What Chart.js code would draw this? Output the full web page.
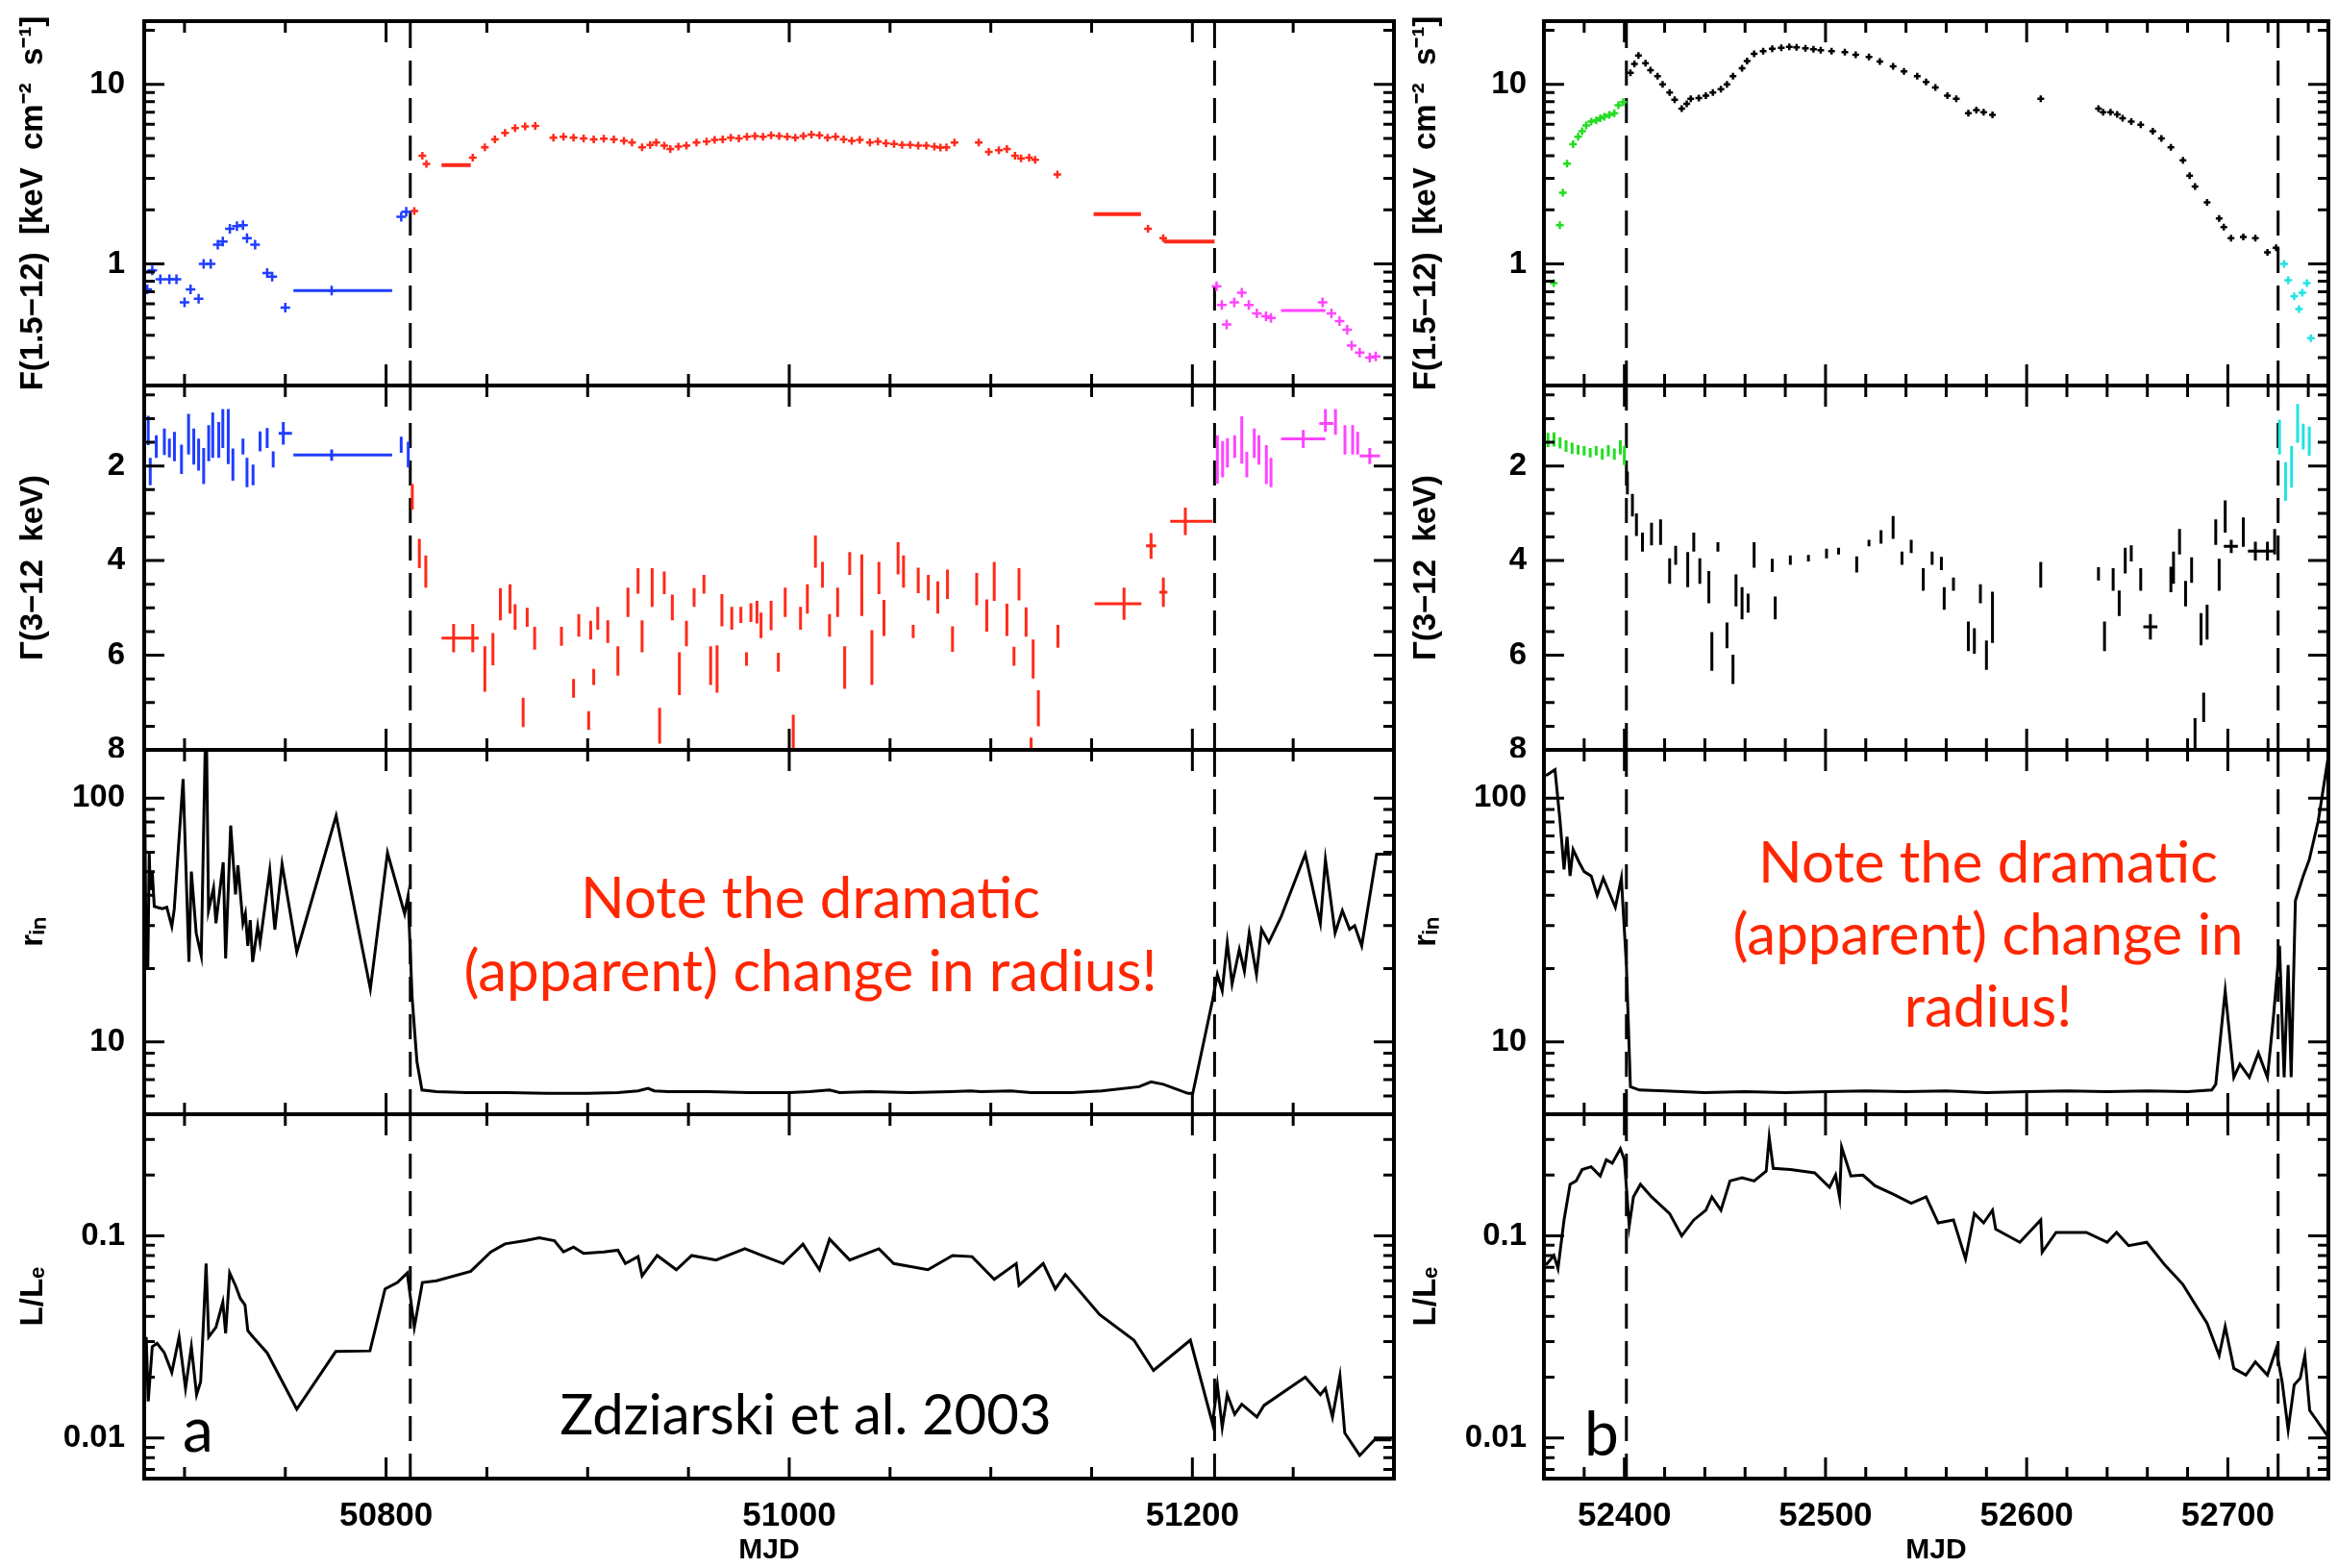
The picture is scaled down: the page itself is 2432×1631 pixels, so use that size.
<!DOCTYPE html>
<html>
<head>
<meta charset="utf-8">
<script src="https://cdn.jsdelivr.net/npm/chart.js@4.4.0/dist/chart.umd.min.js"></script>
<style>
  body { margin: 0; background: #fff; width: 2432px; height: 1631px; position: relative; overflow: hidden; }
  canvas { position: absolute; }
  .note { position: absolute; transform: translate(-50%, -50%); white-space: nowrap; text-align: center;
          font-family: Lato, "Open Sans", sans-serif; }
</style>
</head>
<body>
<script>
// AXIS RANGES AND TICK LABELS
const xLeftRange = [50680, 51300];
const xRightRange = [52360, 52750];
const xLeftTicks = [50800, 51000, 51200];
const xRightTicks = [52400, 52500, 52600, 52700];
const fluxRange = [0.21, 22.5];
const fluxTicks = [1, 10];
const gammaRange = [0.3, 8];
const gammaTicks = [2, 4, 6, 8];
const rinRange = [5.05, 158];
const rinTicks = [10, 100];
const lumRange = [0.0063, 0.4];
const lumTicks = [0.01, 0.1];
const dashLeft = [50812, 51211];
const dashRight = [52401, 52725];

// PANEL a : F(1.5-12)   [mjd, flux]
const fluxBlue = [[50681.5,0.72],[50684,0.92],[50688,0.82],[50692.5,0.82],[50696,0.82],[50700,0.61],[50703,0.72],
  [50707,0.64],[50709.5,1.0],[50713,1.0],[50716.5,1.28],[50719,1.33],[50722.5,1.57],[50726,1.62],[50729,1.64],
  [50731,1.39],[50735,1.28],[50741,0.89],[50743.5,0.85],[50750,0.57],[50773,0.71],[50807.5,1.83],[50810,1.95]];
const fluxBlueBins = [[50754,50803,0.71]];
const fluxRed = [[50814,1.97],[50818,4.0],[50820,3.6],[50843,3.9],[50849,4.46],[50854,4.94],[50859,5.37],[50864,5.7],
  [50869,5.83],[50874,5.87],[50883,5.05],[50888,5.1],[50893,5.05],[50898,5.0],[50903,4.94],[50908,4.98],[50913,4.94],
  [50918,4.85],[50922,4.74],[50927,4.46],[50931,4.6],[50934,4.74],[50938,4.55],[50941,4.37],[50945,4.5],[50949,4.55],
  [50954,4.74],[50959,4.8],[50963,4.9],[50967,4.94],[50971,5.05],[50975,5.0],[50979,5.1],[50983,5.15],[50987,5.1],
  [50991,5.2],[50995,5.15],[50999,5.1],[51003,5.05],[51007,5.15],[51011,5.25],[51015,5.2],[51019,5.05],[51023,5.1],
  [51027,4.94],[51031,4.85],[51035,4.9],[51040,4.74],[51044,4.8],[51048,4.7],[51052,4.65],[51056,4.6],[51060,4.6],
  [51064,4.55],[51068,4.55],[51072,4.5],[51075,4.45],[51078,4.46],[51082,4.74],[51094,4.74],[51099,4.2],[51104,4.3],
  [51108,4.37],[51112,4.0],[51115,3.87],[51119,3.9],[51122,3.8],[51133,3.15],[51178,1.57],[51185.5,1.39]];
const fluxRedBins = [[50827.5,50842,3.55],[51151,51174.5,1.89],[51186,51211,1.33]];
const fluxMag = [[51212,0.75],[51214.6,0.59],[51217,0.46],[51220.8,0.61],[51224.5,0.69],[51228,0.59],[51232,0.53],
  [51236.5,0.51],[51239,0.5],[51264.6,0.61],[51269,0.53],[51273,0.48],[51276.8,0.43],[51279,0.35],[51283,0.32],
  [51288,0.3],[51291,0.305]];
const fluxMagBins = [[51244,51266,0.55]];

// PANEL a : Gamma(3-12 keV)   [mjd, gamma, error]
const gamBlue = [[50682,1.25,0.31],[50683,2.12,0.29],[50686,1.59,0.24],[50690,1.49,0.28],[50692.5,1.62,0.2],
  [50695,1.59,0.31],[50698.5,1.86,0.31],[50702,1.33,0.43],[50704.6,1.59,0.38],[50707,1.76,0.34],[50709.5,2.0,0.38],
  [50712,1.52,0.38],[50714,1.35,0.48],[50717,1.45,0.38],[50719,1.21,0.41],[50721.7,1.38,0.58],[50724,1.97,0.34],
  [50729,1.59,0.17],[50731,2.14,0.31],[50734,2.19,0.22],[50737.5,1.48,0.21],[50741,1.41,0.21],[50744,1.86,0.17],
  [50749,1.31,0.24],[50773,1.77,0.12],[50807.5,1.55,0.17],[50811,1.76,0.27]];
const gamBlueBins = [[50754,50803,1.77],[50746.7,50753.3,1.31]];
const gamRed = [[50813,2.65,0.27],[50816.5,3.85,0.31],[50819.7,4.23,0.34],[50833.5,5.64,0.3],[50843,5.64,0.3],
  [50849,6.29,0.48],[50853,5.87,0.34],[50856.7,4.92,0.34],[50861.5,4.81,0.31],[50864,5.19,0.27],[50868,7.21,0.31],
  [50870,5.2,0.2],[50873.7,5.64,0.24],[50887,5.6,0.2],[50893,6.7,0.2],[50895.6,5.37,0.24],[50900.5,7.38,0.2],
  [50901.5,5.47,0.2],[50903,6.46,0.17],[50905,5.22,0.24],[50910,5.5,0.24],[50915,6.12,0.31],[50920,4.88,0.31],
  [50925,4.43,0.27],[50927,5.6,0.34],[50932,4.57,0.41],[50935.7,7.49,0.38],[50938,4.47,0.24],[50942,4.99,0.27],
  [50945.5,6.39,0.45],[50949,5.54,0.27],[50952.8,4.78,0.2],[50957.7,4.5,0.2],[50961,6.22,0.41],[50964.2,6.29,0.5],
  [50966.6,5.05,0.34],[50971.5,5.22,0.24],[50976,5.15,0.17],[50978.8,6.08,0.14],[50981,5.1,0.2],[50984,5.09,0.24],
  [50986,5.37,0.27],[50991,5.16,0.31],[50994.6,6.15,0.2],[50998,4.88,0.31],[51002,7.74,0.48],[51005.6,5.22,0.24],
  [51009,4.81,0.31],[51013,3.81,0.34],[51016.5,4.3,0.27],[51020,5.37,0.24],[51024,4.88,0.31],[51027.5,6.26,0.45],
  [51030,4.06,0.24],[51036,4.52,0.65],[51041,6.05,0.58],[51044.5,4.37,0.34],[51047,5.21,0.38],[51054,3.95,0.34],
  [51056.7,4.23,0.34],[51061.5,5.5,0.14],[51064,4.42,0.27],[51069,4.57,0.27],[51073.7,4.78,0.34],[51078.5,4.5,0.31],
  [51081,5.66,0.27],[51093,4.6,0.34],[51098,5.16,0.34],[51101.7,4.44,0.41],[51108,5.25,0.34],[51111.5,6.02,0.2],
  [51114,4.5,0.34],[51117.5,5.3,0.31],[51120,7.94,0.2],[51121,6.08,0.41],[51123.6,7.12,0.38],[51133.3,5.6,0.24],
  [51166.1,4.91,0.34],[51179.5,3.69,0.27],[51185.6,4.67,0.31],[51196.5,3.17,0.29]];
const gamRedBins = [[50827.5,50846,5.64],[51151.5,51174.7,4.91],[51177,51182,3.69],[51183.6,51187.6,4.67],[51189,51210,3.17]];
const gamMag = [[51212.4,1.86,0.51],[51215,1.86,0.38],[51217.4,1.72,0.31],[51221,1.59,0.24],[51224.5,1.45,0.5],
  [51227,1.97,0.27],[51230.7,1.52,0.31],[51233,1.66,0.31],[51236.7,1.97,0.41],[51239,2.14,0.31],[51255,1.43,0.19],
  [51266,1.04,0.24],[51271,1.07,0.27],[51275.7,1.45,0.31],[51279.5,1.45,0.31],[51282,1.52,0.24],[51288,1.79,0.17]];
const gamMagBins = [[51244,51266,1.43],[51263,51270,1.1],[51283,51293,1.79]];

// PANEL a : r_in and L/L_E   [mjd, value]
const rinLeft = [[50680.3,91],[50681,20],[50681.8,20],[50682.5,60],[50683,42],[50684,50],[50685,36],[50686.4,35.7],
  [50689,35.2],[50691.2,35.7],[50693.7,29.8],[50694.9,35],[50699.3,120],[50702.2,21.3],[50703.4,50],[50705.8,28],
  [50708.3,22.6],[50710.7,250],[50711.9,34.6],[50714.4,42.8],[50715.6,30.7],[50719.2,54.6],[50720.4,22],[50722.9,77.3],
  [50725.3,40.3],[50726.5,53],[50729,30.7],[50730.2,33.6],[50731.4,24.8],[50732.6,31.6],[50733.8,21.3],[50736.3,29.8],
  [50737.5,25.6],[50742.3,50.6],[50744.8,28.9],[50748.4,53.7],[50755.7,23.4],[50775.2,84.7],[50792.2,16.5],
  [50800.7,59.7],[50809.2,33.6],[50810.9,39.7],[50812.9,15.3],[50815.3,8.3],[50817.8,6.35],[50825,6.25],[50840,6.2],
  [50860,6.2],[50880,6.15],[50900,6.15],[50915,6.2],[50925,6.3],[50930,6.45],[50933,6.3],[50940,6.25],[50960,6.25],
  [50980,6.2],[51000,6.2],[51010,6.25],[51020,6.35],[51025,6.2],[51040,6.25],[51060,6.2],[51080,6.25],[51090,6.3],
  [51095,6.25],[51110,6.3],[51120,6.2],[51140,6.2],[51155,6.3],[51173.5,6.55],[51179.5,6.86],[51185.6,6.7],
  [51197.8,6.15],[51200.2,6.15],[51210,14.8],[51212.4,18.9],[51214.8,16.2],[51217.3,25.6],[51219.7,17.3],[51223.3,24],
  [51225.8,19.5],[51228.2,28],[51231.8,18.9],[51234.3,29],[51237.9,25.6],[51244,32.6],[51256,59],[51263.5,30.7],
  [51266,56],[51270.8,28],[51274.4,34.6],[51278,29],[51280.5,30],[51284,24.8],[51291.4,59],[51298.8,59]];
const lumLeft = [[50681,0.0316],[50682,0.0152],[50684,0.0283],[50686.4,0.0294],[50690,0.0264],[50693.7,0.0211],
  [50697.3,0.0316],[50700.5,0.0176],[50703.4,0.0283],[50706,0.0164],[50708,0.019],[50709.5,0.039],[50710.7,0.073],
  [50712,0.0316],[50715.6,0.0353],[50719,0.047],[50720.4,0.033],[50722.4,0.0656],[50725.3,0.0568],[50727.7,0.049],
  [50730,0.0456],[50731.4,0.034],[50734,0.0316],[50741,0.0264],[50755.7,0.0139],[50775,0.0268],[50792,0.027],
  [50799.5,0.0547],[50805.6,0.0588],[50810.5,0.0656],[50814,0.0353],[50818,0.0588],[50825,0.06],[50842,0.0668],
  [50852,0.0834],[50859,0.0913],[50869,0.0947],[50876,0.098],[50883.5,0.0947],[50888,0.0834],[50893,0.088],
  [50898,0.082],[50908,0.0834],[50915,0.085],[50918.7,0.073],[50925,0.079],[50927,0.0634],[50934.5,0.08],
  [50944,0.068],[50951.6,0.08],[50963.7,0.076],[50978,0.0864],[50988,0.079],[50997,0.073],[51006.8,0.091],
  [51015,0.068],[51020,0.0964],[51030,0.076],[51044.5,0.0864],[51051.8,0.073],[51068.8,0.068],[51081,0.08],
  [51090.7,0.079],[51101.7,0.061],[51112.6,0.073],[51114,0.057],[51126,0.073],[51132,0.0547],[51137,0.0645],
  [51154,0.0408],[51171,0.0305],[51180.7,0.0216],[51199,0.0305],[51210,0.0118],[51212.4,0.0183],[51214.8,0.0113],
  [51217.3,0.0164],[51221,0.0131],[51224.5,0.0147],[51232,0.0127],[51235.5,0.0145],[51256,0.02],[51263.5,0.0164],
  [51266,0.0176],[51269.5,0.0127],[51273.2,0.0203],[51275.6,0.0106],[51283,0.0082],[51290.3,0.0098],[51298.8,0.0098]];

// PANEL b : F(1.5-12)
const fluxGreen = [[52364.9,0.78],[52367.9,1.64],[52369.4,2.49],[52371.5,3.62],[52374.5,4.64],[52377,5.1],[52379,5.48],
  [52381,5.9],[52383.5,6.2],[52386,6.3],[52388,6.47],[52390,6.6],[52392.5,6.75],[52395,6.9],[52397,7.64],[52399.4,7.96]];
const fluxBlack = [[52403,11.6],[52405,13],[52407,14.5],[52410.5,13.1],[52413,12],[52416.5,11.1],[52419,10],
  [52422.5,9.0],[52425,8.2],[52428.5,7.33],[52431,7.8],[52433,8.3],[52437,8.4],[52440.5,8.65],[52444,9.0],[52448,9.4],
  [52451,10],[52454,11.1],[52458.5,12.3],[52461,13.5],[52464.5,14.8],[52469,15.3],[52473.5,15.8],[52478,16],
  [52482,16.2],[52485.6,16.1],[52490,15.9],[52494,15.7],[52497.6,15.5],[52503,15.3],[52509.6,15.1],[52515,14.6],
  [52521.6,14.2],[52527,13.4],[52533.6,12.6],[52539,11.8],[52545.6,11.1],[52550,10.3],[52554.6,9.6],[52560.6,8.65],
  [52565,8.3],[52571,6.9],[52575,7.2],[52578.6,7.0],[52583,6.75],[52607,8.3],[52635.7,7.33],[52638,7.0],[52641.7,7.0],
  [52645,6.8],[52647.7,6.47],[52652,6.2],[52656.7,5.95],[52662.7,5.48],[52667,5.0],[52671.7,4.46],[52677.7,3.78],
  [52681,3.1],[52683.7,2.7],[52689.7,2.2],[52695.7,1.79],[52698,1.6],[52701.6,1.39],[52707.7,1.41],[52713.7,1.39],
  [52719.7,1.16],[52724,1.23]];
const fluxCyan = [[52728,1.0],[52730,0.81],[52733,0.66],[52735.4,0.56],[52737,0.69],[52739.3,0.78],[52741.3,0.385]];

// PANEL b : Gamma(3-12 keV)
const gamGreen = [[52362,1.45,0.15],[52365,1.44,0.15],[52368,1.51,0.12],[52371,1.58,0.12],[52374,1.63,0.12],
  [52377,1.66,0.1],[52380,1.68,0.1],[52383,1.72,0.1],[52386,1.68,0.1],[52389,1.75,0.12],[52392,1.68,0.12],
  [52395,1.75,0.12],[52398,1.61,0.15],[52400,1.78,0.2]];
const gamBlack = [[52401.5,2.36,0.24],[52404,2.83,0.24],[52406,3.24,0.24],[52409,3.61,0.2],[52413.5,3.44,0.24],
  [52418,3.4,0.27],[52422.5,4.22,0.27],[52425.5,3.89,0.2],[52431.5,4.19,0.37],[52434.5,3.61,0.2],[52437.5,4.22,0.27],
  [52442,4.56,0.34],[52443.5,5.92,0.41],[52446.5,3.71,0.1],[52451,5.58,0.27],[52454,6.3,0.31],[52455.5,4.63,0.34],
  [52458.5,4.9,0.34],[52461.5,4.9,0.2],[52464.5,3.88,0.27],[52473.5,4.1,0.14],[52475,5.0,0.24],[52482.5,3.99,0.1],
  [52491.5,3.95,0.07],[52500.5,3.85,0.1],[52506.5,3.8,0.07],[52515.5,4.08,0.17],[52521.6,3.63,0.07],[52527.6,3.5,0.14],
  [52533.6,3.3,0.24],[52538,3.95,0.14],[52542.6,3.7,0.14],[52548.6,4.4,0.24],[52553,3.95,0.14],[52557.6,4.06,0.14],
  [52559,4.8,0.24],[52563.6,4.5,0.14],[52571,5.6,0.31],[52574,5.7,0.27],[52577,4.7,0.2],[52580,6.0,0.31],
  [52583,5.2,0.54],[52607,4.3,0.27],[52635.7,4.28,0.14],[52638.7,5.6,0.31],[52643,4.4,0.24],[52646,4.9,0.27],
  [52649,4.0,0.27],[52652,3.85,0.17],[52656.7,4.4,0.24],[52661.5,5.4,0.27],[52671.7,4.4,0.27],[52673,4.15,0.34],
  [52676,3.6,0.27],[52679,4.7,0.27],[52682,4.2,0.27],[52683.7,7.8,0.47],[52686.7,5.45,0.34],[52688,7.1,0.31],
  [52689.7,5.3,0.37],[52694,3.4,0.27],[52695.7,4.3,0.34],[52698.7,3.07,0.34],[52701.7,3.7,0.14],[52707.7,3.4,0.31],
  [52713.7,3.8,0.2],[52719.7,3.8,0.2],[52723.3,3.6,0.27]];
const gamBlackBins = [[52658,52665,5.4],[52698,52705,3.7],[52710,52717,3.8],[52716,52723,3.8]];
const gamCyan = [[52725.7,1.39,0.37],[52728.7,2.33,0.41],[52731.7,2.02,0.44],[52734.7,1.1,0.41],[52737.5,1.38,0.27],
  [52740.5,1.48,0.31]];

// PANEL b : r_in and L/L_E
const rinRight = [[52361,124],[52365.5,131],[52368,81],[52370,51],[52371.5,69.5],[52373,48],[52374.5,61.6],
  [52377.5,54.6],[52380,50],[52383.5,48],[52386.5,40],[52389.5,47],[52392.5,41],[52395.5,35.7],[52398.5,47],
  [52401,20.7],[52403,6.55],[52407.5,6.35],[52420,6.3],[52440,6.2],[52460,6.25],[52480,6.2],[52500,6.25],[52520,6.3],
  [52540,6.25],[52560,6.3],[52580,6.2],[52600,6.25],[52620,6.3],[52640,6.25],[52660,6.3],[52680,6.25],[52692,6.35],
  [52694,6.7],[52698.7,16.2],[52703,7.16],[52706,8.1],[52710.7,7.16],[52715.2,9.0],[52719.7,7.16],[52722.7,12.7],
  [52725.7,24.8],[52728,7.16],[52730,20.7],[52731.5,7.16],[52733.6,38],[52737.5,48],[52740.5,56],[52745,81],[52749.7,144]];
const lumRight = [[52361,0.0718],[52365,0.08],[52367,0.069],[52370,0.12],[52373,0.18],[52376,0.187],[52379,0.213],
  [52383.5,0.22],[52388,0.198],[52391,0.238],[52394,0.229],[52398,0.27],[52400,0.238],[52402.4,0.112],[52404.5,0.156],
  [52408,0.18],[52413.5,0.156],[52422.5,0.129],[52428.5,0.1],[52434.5,0.12],[52440.5,0.134],[52443.5,0.156],
  [52448,0.134],[52452.5,0.187],[52458.5,0.194],[52464.5,0.187],[52470.5,0.209],[52472,0.308],[52474,0.216],
  [52482.5,0.213],[52494.6,0.205],[52502,0.174],[52505,0.2],[52507,0.155],[52508,0.275],[52512.6,0.198],
  [52518.6,0.2],[52524.6,0.177],[52533.6,0.161],[52542.6,0.145],[52550,0.156],[52556,0.116],[52563.6,0.12],
  [52569.6,0.077],[52574,0.129],[52578.6,0.116],[52583,0.134],[52584.6,0.108],[52596.6,0.093],[52607,0.12],
  [52607.7,0.083],[52614.6,0.104],[52629.7,0.104],[52640,0.093],[52644.7,0.104],[52650.7,0.0895],[52659.7,0.093],
  [52668.7,0.0718],[52677.7,0.0575],[52683.7,0.046],[52689.7,0.037],[52695.7,0.0256],[52698.7,0.0356],[52703,0.0221],
  [52709,0.0205],[52713.7,0.0238],[52719.7,0.0205],[52724,0.0275],[52727,0.019],[52730,0.011],[52733,0.0183],
  [52736,0.0198],[52738.3,0.0256],[52740.7,0.0137],[52749.7,0.0102]];

// COLORES
const BLUE = '#1f3dff', RED = '#ff2a1a', MAG = '#ff44ff', GREEN = '#22dd22', CYAN = '#22e2e2', BLACK = '#000';

// HELPERS: build data for the library
function points(arr) { return arr.map(p => ({x: p[0], y: p[1]})); }
function errBars(arr) {
  const out = [];
  arr.forEach(p => out.push({x: p[0], y: p[1] - p[2]}, {x: p[0], y: p[1] + p[2]}, {x: p[0], y: null}));
  return out;
}
function binBars(arr) {
  const out = [];
  arr.forEach(b => out.push({x: b[0], y: b[2]}, {x: b[1], y: b[2]}, {x: b[1], y: null}));
  return out;
}
function dashData(xs, range) {
  const out = [];
  xs.forEach(x => out.push({x, y: range[0]}, {x, y: range[1]}, {x, y: null}));
  return out;
}
function lineSet(data, color, width) {
  return {data, borderColor: color, borderWidth: width, pointRadius: 0, showLine: true, spanGaps: false};
}
function markSet(data, color, r) {
  return {data, showLine: false, pointStyle: 'cross', pointRadius: r, pointBorderWidth: 2.5,
          pointBorderColor: color, pointBackgroundColor: color};
}
function dashSet(xs, range) {
  return {data: dashData(xs, range), borderColor: BLACK, borderWidth: 3, borderDash: [26, 13], pointRadius: 0, showLine: true};
}

// FRAME + INWARD TICKS (ticks on all four sides)
function yMarks(s, o) {
  const out = [];
  if (o.yLog) {
    for (let e = Math.floor(Math.log10(s.min)); e <= Math.ceil(Math.log10(s.max)); e++) {
      for (let m = 1; m <= 9; m++) {
        const v = m * Math.pow(10, e);
        if (v >= s.min && v <= s.max) out.push([v, m === 1]);
      }
    }
  } else {
    for (let v = Math.ceil(s.min / o.yMinor) * o.yMinor; v <= s.max + 1e-9; v += o.yMinor) {
      out.push([v, o.yTicks.includes(v)]);
    }
  }
  return out;
}
const frameTicks = {
  id: 'frameTicks',
  afterDatasetsDraw(chart, args, o) {
    const {ctx, chartArea: a} = chart;
    const xs = chart.scales.x, ys = chart.scales.y;
    ctx.save();
    ctx.strokeStyle = BLACK;
    ctx.lineWidth = 3;
    ctx.beginPath();
    for (let v = Math.ceil(xs.min / o.xMinor) * o.xMinor; v <= xs.max; v += o.xMinor) {
      const p = xs.getPixelForValue(v);
      const len = o.xTicks.includes(v) ? 22 : 12;
      ctx.moveTo(p, a.top); ctx.lineTo(p, a.top + len);
      ctx.moveTo(p, a.bottom); ctx.lineTo(p, a.bottom - len);
    }
    yMarks(ys, o).forEach(([v, major]) => {
      const p = ys.getPixelForValue(v);
      const len = major ? 21 : 11;
      ctx.moveTo(a.left, p); ctx.lineTo(a.left + len, p);
      ctx.moveTo(a.right, p); ctx.lineTo(a.right - len, p);
    });
    ctx.stroke();
    ctx.lineWidth = 4;
    ctx.strokeRect(a.left, a.top, a.right - a.left, a.bottom - a.top);
    ctx.restore();
  }
};

// LAYOUT
const PAD = 8;
const rowEdges = [22, 401, 780, 1159, 1538];
const cols = {
  left: {canvasLeft: 0, plotLeft: 150, plotRight: 1450, range: xLeftRange, ticks: xLeftTicks, minor: 50,
         dashes: dashLeft, labelPad: 20, titlePad: 15},
  right: {canvasLeft: 1458, plotLeft: 1606, plotRight: 2422, range: xRightRange, ticks: xRightTicks, minor: 20,
          dashes: dashRight, labelPad: 18, titlePad: 6}
};
const rows = [
  {type: 'logarithmic', range: fluxRange, ticks: fluxTicks, title: 'F(1.5\u221212)  [keV  cm\u207b\u00b2  s\u207b\u00b9]'},
  {type: 'linear', range: gammaRange, ticks: gammaTicks, minor: 0.5, reverse: true, title: '\u0393(3\u221212  keV)'},
  {type: 'logarithmic', range: rinRange, ticks: rinTicks, title: 'r\u1d62\u2099'},
  {type: 'logarithmic', range: lumRange, ticks: lumTicks, title: 'L/L\u2091'}
];

function makePanel(colKey, rowIdx, datasets) {
  const c = cols[colKey], r = rows[rowIdx];
  const isBottom = rowIdx === 3;
  const top = rowEdges[rowIdx] - PAD;
  const height = isBottom ? 1631 - top : rowEdges[rowIdx + 1] - rowEdges[rowIdx] + 2 * PAD;
  const width = c.plotRight + PAD - c.canvasLeft;
  const canvas = document.createElement('canvas');
  canvas.width = width;
  canvas.height = height;
  canvas.style.left = c.canvasLeft + 'px';
  canvas.style.top = top + 'px';
  document.body.appendChild(canvas);

  new Chart(canvas, {
    type: 'line',
    data: {datasets: datasets.concat([dashSet(c.dashes, r.range)])},
    options: {
      responsive: false,
      animation: false,
      devicePixelRatio: 1,
      layout: {padding: {top: PAD, right: PAD, bottom: isBottom ? 0 : PAD, left: 0}},
      plugins: {
        legend: {display: false},
        tooltip: {enabled: false},
        frameTicks: {xMinor: c.minor, xTicks: c.ticks, yLog: r.type === 'logarithmic', yMinor: r.minor, yTicks: r.ticks}
      },
      scales: {
        x: {
          type: 'linear', min: c.range[0], max: c.range[1],
          grid: {display: false, drawTicks: false}, border: {display: false},
          afterBuildTicks: s => { s.ticks = c.ticks.map(v => ({value: v})); },
          ticks: {display: isBottom, padding: 18, maxRotation: 0, autoSkip: false, color: BLACK,
                  font: {family: 'Liberation Sans', weight: 'bold', size: 35}, callback: v => String(v)},
          title: {display: isBottom, text: 'MJD', color: BLACK, padding: {top: 0, bottom: 0},
                  font: {family: 'Liberation Sans', weight: 'bold', size: 30}},
          afterFit: s => {
            s.height = isBottom ? 1631 - rowEdges[4] : 0;
            s.paddingLeft = 0; s.paddingRight = 0; s.paddingTop = 0; s.paddingBottom = 0;
          }
        },
        y: {
          type: r.type, min: r.range[0], max: r.range[1], reverse: !!r.reverse,
          grid: {display: false, drawTicks: false}, border: {display: false},
          afterBuildTicks: s => { s.ticks = r.ticks.map(v => ({value: v})); },
          ticks: {padding: c.labelPad, autoSkip: false, color: BLACK,
                  font: {family: 'Liberation Sans', weight: 'bold', size: 33}, callback: v => String(v)},
          title: {display: true, text: r.title, color: BLACK, padding: {top: c.titlePad, bottom: 0},
                  font: {family: 'Liberation Sans', weight: 'bold', size: 33}},
          afterFit: s => {
            s.width = c.plotLeft - c.canvasLeft;
            s.paddingLeft = 0; s.paddingRight = 0; s.paddingTop = 0; s.paddingBottom = 0;
          }
        }
      }
    },
    plugins: [frameTicks]
  });
}

// PANEL a (left)
makePanel('left', 0, [
  markSet(points(fluxBlue), BLUE, 5), lineSet(binBars(fluxBlueBins), BLUE, 3),
  markSet(points(fluxRed), RED, 4), lineSet(binBars(fluxRedBins), RED, 4),
  markSet(points(fluxMag), MAG, 5), lineSet(binBars(fluxMagBins), MAG, 3)
]);
makePanel('left', 1, [
  lineSet(errBars(gamBlue), BLUE, 3), lineSet(binBars(gamBlueBins), BLUE, 3),
  lineSet(errBars(gamRed), RED, 3), lineSet(binBars(gamRedBins), RED, 3),
  lineSet(errBars(gamMag), MAG, 3), lineSet(binBars(gamMagBins), MAG, 3)
]);
makePanel('left', 2, [lineSet(points(rinLeft), BLACK, 3)]);
makePanel('left', 3, [lineSet(points(lumLeft), BLACK, 3)]);

// PANEL b (right)
makePanel('right', 0, [
  markSet(points(fluxGreen), GREEN, 4), markSet(points(fluxBlack), BLACK, 3.5), markSet(points(fluxCyan), CYAN, 4)
]);
makePanel('right', 1, [
  lineSet(errBars(gamGreen), GREEN, 3), lineSet(errBars(gamBlack), BLACK, 3),
  lineSet(binBars(gamBlackBins), BLACK, 3), lineSet(errBars(gamCyan), CYAN, 3)
]);
makePanel('right', 2, [lineSet(points(rinRight), BLACK, 3)]);
makePanel('right', 3, [lineSet(points(lumRight), BLACK, 3)]);

// TEXT ANNOTATIONS
function note(html, x, y, size, color, lh) {
  const d = document.createElement('div');
  d.className = 'note';
  d.innerHTML = html;
  d.style.left = x + 'px';
  d.style.top = y + 'px';
  d.style.fontSize = size + 'px';
  d.style.color = color;
  d.style.lineHeight = (lh || size * 1.2) + 'px';
  document.body.appendChild(d);
}
note('Note the dramatic<br>(apparent) change in radius!', 843, 970, 60, '#ff2600', 76);
note('Note the dramatic<br>(apparent) change in<br>radius!', 2068, 970, 60, '#ff2600', 75);
note('Zdziarski et al. 2003', 838, 1470, 58, BLACK);
note('a', 206, 1486, 64, BLACK);
note('b', 1666, 1490, 64, BLACK);
</script>
</body>
</html>
